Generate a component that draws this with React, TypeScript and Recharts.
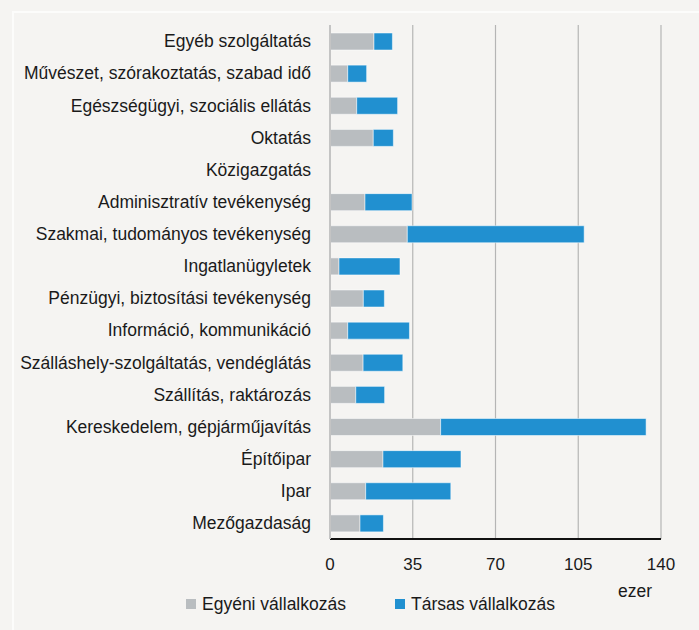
import { BarChart, Bar, XAxis, YAxis, CartesianGrid } from 'recharts';

const categories = [
  'Egyéb szolgáltatás',
  'Művészet, szórakoztatás, szabad idő',
  'Egészségügyi, szociális ellátás',
  'Oktatás',
  'Közigazgatás',
  'Adminisztratív tevékenység',
  'Szakmai, tudományos tevékenység',
  'Ingatlanügyletek',
  'Pénzügyi, biztosítási tevékenység',
  'Információ, kommunikáció',
  'Szálláshely-szolgáltatás, vendéglátás',
  'Szállítás, raktározás',
  'Kereskedelem, gépjárműjavítás',
  'Építőipar',
  'Ipar',
  'Mezőgazdaság',
];

// ezer vállalkozás
const egyeni = [18.6, 7.5, 11.3, 18.3, 0, 14.8, 32.7, 3.8, 14.1, 7.5, 14.0, 10.9, 46.8, 22.4, 15.1, 12.7];
const tarsas = [7.8, 8.0, 17.3, 8.5, 0, 19.9, 74.8, 25.8, 8.9, 26.1, 16.8, 12.2, 86.9, 33.0, 36.0, 9.9];

const xTicks = [0, 35, 70, 105, 140];

const GRAY = '#b9bdc0';
const BLUE = '#2190d0';
const FONT = '"Liberation Sans", Arial, sans-serif';
const TEXT = '#1a1a1a';

const data = categories.map((name, i) => ({ name, egyeni: egyeni[i], tarsas: tarsas[i] }));

export default function App() {
  return (
    <div
      style={{
        position: 'fixed',
        top: 0,
        left: 0,
        width: 699,
        height: 630,
        background: '#f5f4f2',
        fontFamily: FONT,
        overflow: 'hidden',
      }}
    >
      <div
        style={{
          position: 'absolute',
          left: 12,
          top: 11,
          right: -10,
          bottom: -10,
          borderLeft: '2px solid #fcfcfb',
          borderTop: '2px solid #fcfcfb',
        }}
      />
      <BarChart
        width={699}
        height={630}
        data={data}
        layout="vertical"
        barSize={17}
        margin={{ top: 25, right: 38, bottom: 31, left: 0 }}
        style={{ position: 'absolute', top: 0, left: 0 }}
      >
        <CartesianGrid horizontal={false} stroke="#b5b5b5" strokeWidth={1.2} />
        <XAxis
          type="number"
          domain={[0, 140]}
          ticks={xTicks}
          interval={0}
          axisLine={{ stroke: '#111', strokeWidth: 2 }}
          tickLine={false}
          tickSize={0}
          tickMargin={19}
          height={60}
          tick={{ fontSize: 17, fill: TEXT, fontFamily: FONT }}
          label={({ viewBox }: any) => (
            <text
              x={viewBox.x + viewBox.width - 26}
              y={viewBox.y + 58}
              textAnchor="middle"
              fontSize={17.5}
              fill={TEXT}
              fontFamily={FONT}
            >
              ezer
            </text>
          )}
        />
        <XAxis
          xAxisId="top"
          orientation="top"
          type="number"
          domain={[0, 140]}
          height={0}
          tick={false}
          tickLine={false}
          axisLine={{ stroke: '#111', strokeWidth: 2 }}
        />
        <YAxis
          type="category"
          dataKey="name"
          width={330}
          interval={0}
          axisLine={{ stroke: '#c4c4c4', strokeWidth: 2 }}
          tickLine={false}
          tickSize={0}
          tickMargin={19}
          tick={{ fontSize: 17.5, fill: TEXT, fontFamily: FONT }}
        />
        <YAxis
          yAxisId="right"
          orientation="right"
          type="category"
          dataKey="name"
          width={0}
          tick={false}
          tickLine={false}
          axisLine={{ stroke: '#111', strokeWidth: 2 }}
        />
        <Bar dataKey="egyeni" stackId="a" fill={GRAY} stroke="rgba(255,255,255,0.5)" strokeWidth={1} isAnimationActive={false} />
        <Bar dataKey="tarsas" stackId="a" fill={BLUE} stroke="rgba(255,255,255,0.5)" strokeWidth={1} isAnimationActive={false} />
      </BarChart>
      <div
        style={{
          position: 'absolute',
          top: 593,
          left: 186,
          display: 'flex',
          alignItems: 'center',
          fontSize: 17.5,
          color: TEXT,
          lineHeight: '22px',
        }}
      >
        <span style={{ width: 10, height: 10, background: GRAY, marginRight: 6 }} />
        <span>Egyéni vállalkozás</span>
        <span style={{ width: 10, height: 10, background: BLUE, marginLeft: 49, marginRight: 6 }} />
        <span>Társas vállalkozás</span>
      </div>
    </div>
  );
}
